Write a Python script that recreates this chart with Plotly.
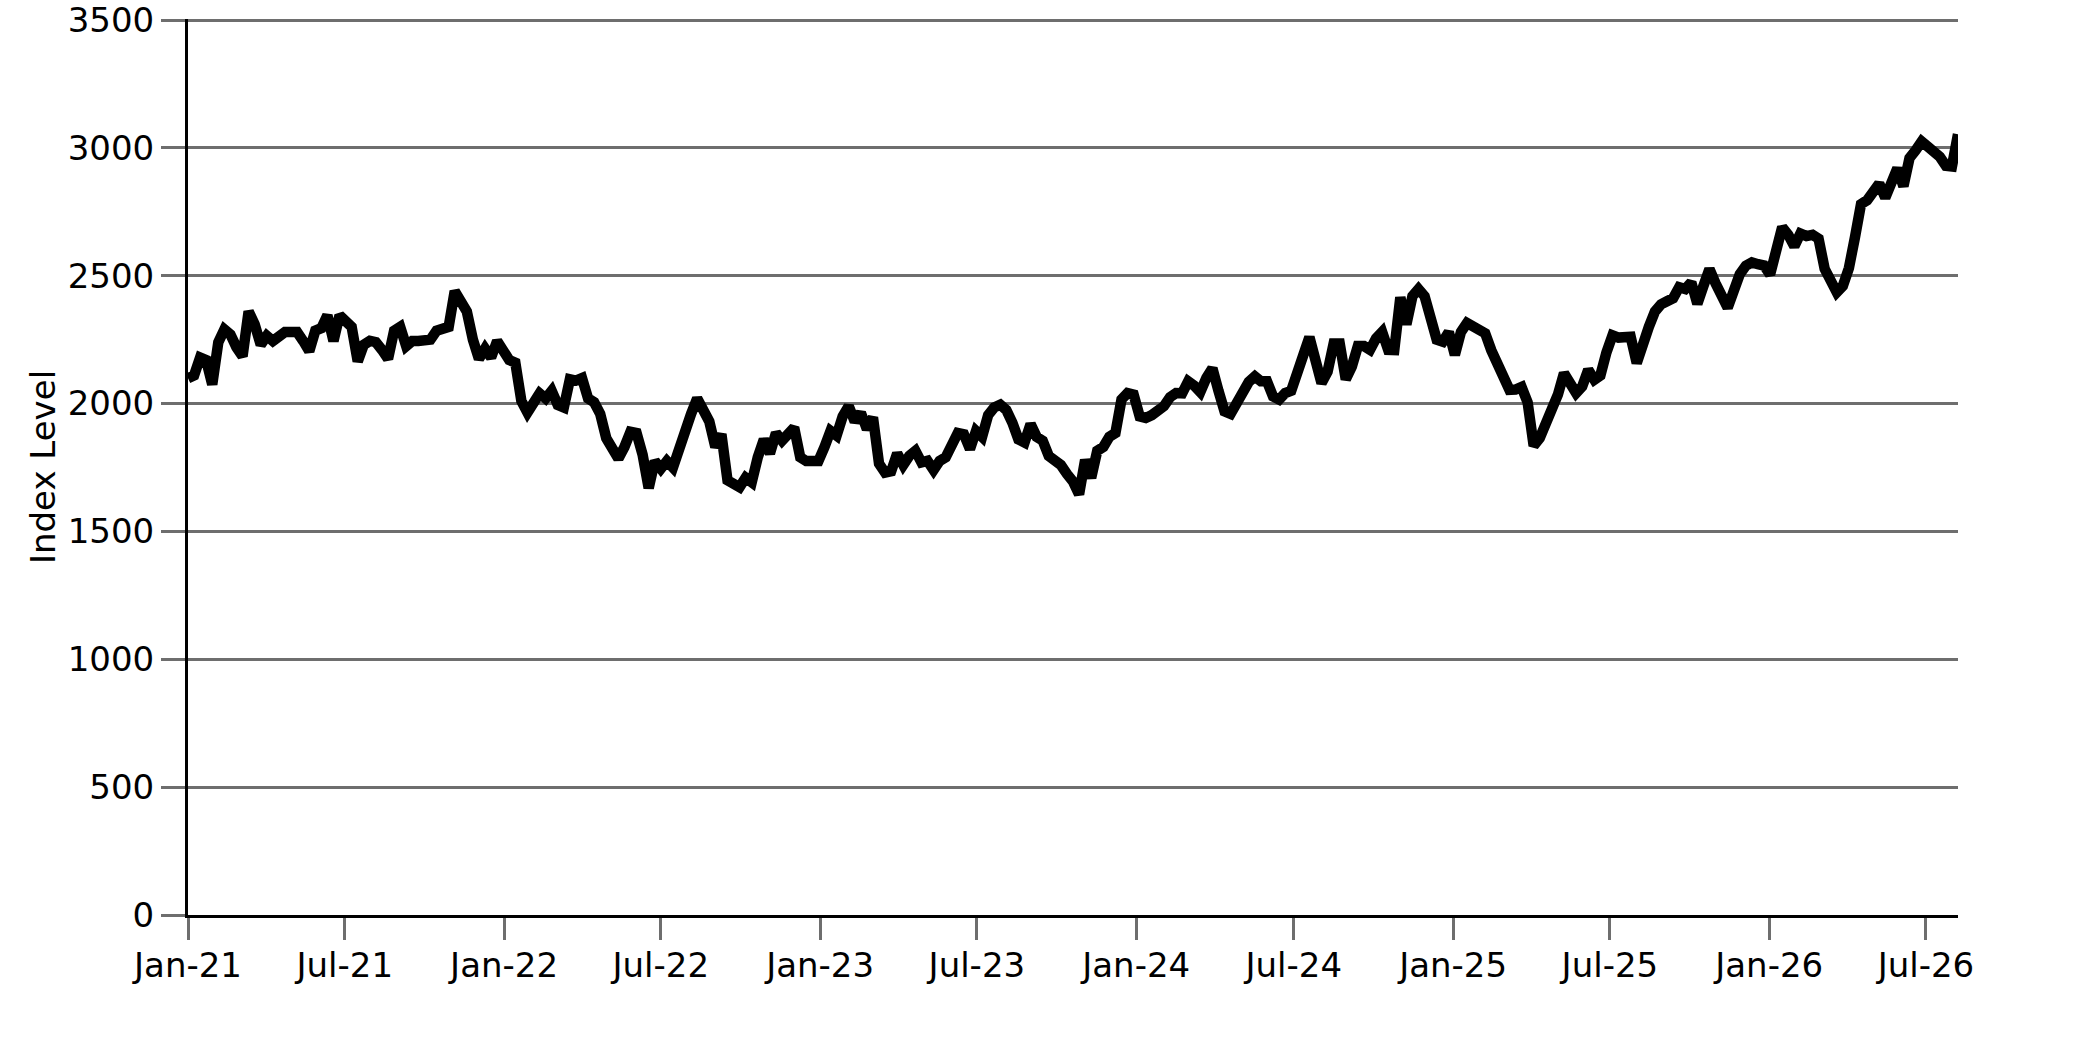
import pandas as pd
import plotly.graph_objects as go

start_date = "2021-01-01"
index_level = [
    2099, 2110, 2180, 2170, 2075, 2240, 2290, 2270, 2220, 2185,
    2360, 2310, 2230, 2265, 2245, 2260, 2280, 2280, 2280, 2245,
    2205, 2285, 2295, 2345, 2245, 2345, 2325, 2300, 2165, 2230,
    2245, 2240, 2210, 2175, 2285, 2300, 2225, 2245, 2245, 2245,
    2250, 2285, 2295, 2300, 2440, 2400, 2360, 2250, 2175, 2215,
    2180, 2245, 2215, 2170, 2160, 2010, 1965, 1995, 2040, 2020,
    2050, 1995, 1985, 2095, 2090, 2100, 2020, 2005, 1960, 1865,
    1830, 1785, 1830, 1890, 1885, 1800, 1670, 1775, 1745, 1775,
    1750, 1830, 1900, 1960, 2020, 1970, 1930, 1830, 1880, 1700,
    1680, 1673, 1710, 1692, 1790, 1860, 1805, 1885, 1855, 1880,
    1906, 1790, 1775, 1775, 1775, 1830, 1893, 1875, 1950, 1990,
    1930, 1964, 1900, 1946, 1765, 1730, 1735, 1805, 1760, 1796,
    1815, 1770, 1776, 1740, 1776, 1790, 1841, 1885, 1880, 1822,
    1893, 1870, 1955, 1985, 1996, 1975, 1925, 1860, 1848, 1920,
    1870, 1855, 1795, 1778, 1760, 1725, 1695, 1645, 1780, 1710,
    1815, 1830, 1870, 1885, 2016, 2041, 2035, 1950, 1944, 1955,
    1968, 1990, 2025, 2041, 2040, 2087, 2070, 2045, 2100, 2138,
    2050, 1970, 1960, 2003, 2060, 2085, 2106, 2087, 2087, 2028,
    2016, 2041, 2050, 2110, 2190, 2260, 2165, 2080, 2125, 2235,
    2235, 2095, 2145, 2225, 2225, 2210, 2255, 2280, 2210, 2209,
    2415, 2310, 2420, 2448, 2420, 2340, 2250, 2242, 2280, 2190,
    2280, 2315, 2300, 2290, 2275, 2209, 2160, 2110, 2054, 2055,
    2065, 2005, 1835, 1865, 1920, 1975, 2035, 2119, 2080, 2041,
    2067, 2132, 2093, 2110, 2200, 2267, 2258, 2255, 2261, 2158,
    2216, 2300, 2360, 2388, 2400, 2412, 2455, 2448, 2474, 2390,
    2460, 2526, 2470, 2420, 2375, 2440, 2506, 2539, 2552, 2545,
    2540, 2505, 2620, 2690, 2660, 2615, 2665, 2655, 2660, 2645,
    2527, 2490, 2435, 2460, 2530, 2650, 2780, 2795, 2830, 2860,
    2805, 2873, 2920, 2850, 2960, 2990, 3025, 3005, 2987, 2965,
    2930, 2927, 3053,
]
y_tick_values = [0, 500, 1000, 1500, 2000, 2500, 3000, 3500]
y_title = "Index Level"

dates = pd.date_range(start_date, periods=len(index_level), freq="7D")

FONT = "DejaVu Sans, Verdana, sans-serif"
GRID = "#6e6e6e"

fig = go.Figure(
    go.Scatter(
        x=dates,
        y=index_level,
        mode="lines",
        line=dict(color="black", width=10.5),
        hoverinfo="skip",
    )
)

fig.update_layout(
    width=2083,
    height=1042,
    margin=dict(l=188, r=125, t=19, b=127, pad=0),
    paper_bgcolor="white",
    plot_bgcolor="white",
    showlegend=False,
    font=dict(family=FONT, size=34, color="black"),
)

fig.update_xaxes(
    type="date",
    tick0="2021-01-01",
    dtick="M6",
    tickformat="%b-%y",
    ticks="outside",
    ticklen=22,
    tickwidth=3,
    tickcolor=GRID,
    showgrid=False,
    showline=True,
    linecolor="black",
    linewidth=3,
    zeroline=False,
    automargin=False,
    ticklabelstandoff=-4,
    ticklabeloverflow="allow",
    tickfont=dict(family=FONT, size=34, color="black"),
)

fig.update_yaxes(
    range=[0, 3504],
    tickvals=y_tick_values,
    ticktext=[str(v) for v in y_tick_values],
    ticks="outside",
    ticklen=24,
    tickwidth=3,
    tickcolor=GRID,
    showgrid=True,
    gridcolor=GRID,
    gridwidth=3,
    showline=True,
    linecolor="black",
    linewidth=3,
    zeroline=False,
    automargin=False,
    ticklabeloverflow="allow",
    tickfont=dict(family=FONT, size=34, color="black"),
    title=dict(text=y_title, font=dict(family=FONT, size=34, color="black"), standoff=2),
)

fig.write_html(
    "out.html",
    config={"displayModeBar": False},
    post_script="document.body.style.margin='0';document.body.style.overflow='hidden';",
)
